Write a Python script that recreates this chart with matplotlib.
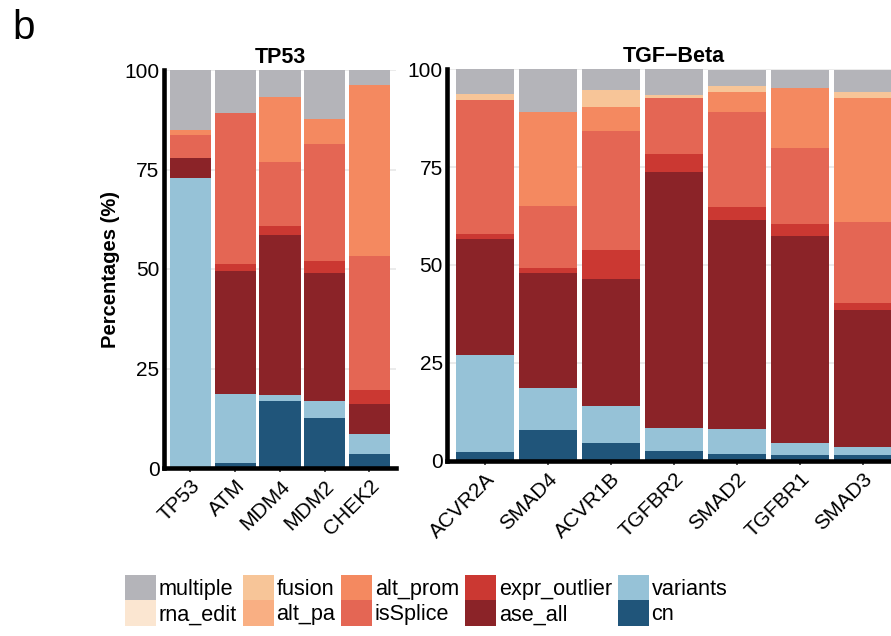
import matplotlib
matplotlib.use("Agg")
import matplotlib.pyplot as plt
import numpy as np
from matplotlib.patches import Patch

plt.rcParams['font.family'] = ['Liberation Sans', 'DejaVu Sans']

# ---------------- data ----------------
categories = ["multiple", "rna_edit", "fusion", "alt_pa", "alt_prom",
              "isSplice", "expr_outlier", "ase_all", "variants", "cn"]
colors = {
    "multiple": "#B4B4B9", "rna_edit": "#FBE6D1", "fusion": "#F7C598",
    "alt_pa": "#F9AF83", "alt_prom": "#F48960", "isSplice": "#E46654",
    "expr_outlier": "#CB3832", "ase_all": "#8B2328", "variants": "#96C2D7",
    "cn": "#20557A",
}

tp53_genes = ["TP53", "ATM", "MDM4", "MDM2", "CHEK2"]
tp53_cn           = [0.0, 1.3, 16.8, 12.5, 3.6]
tp53_variants     = [72.8, 17.4, 1.6, 4.4, 4.9]
tp53_ase_all      = [5.0, 30.8, 40.2, 32.0, 7.7]
tp53_expr_outlier = [0.0, 1.8, 2.2, 3.0, 3.4]
tp53_isSplice     = [5.8, 37.9, 16.0, 29.4, 33.6]
tp53_alt_pa       = [0.0, 0.0, 0.0, 0.0, 0.0]
tp53_alt_prom     = [1.4, 0.0, 16.3, 6.4, 43.1]
tp53_fusion       = [0.0, 0.0, 0.0, 0.0, 0.0]
tp53_rna_edit     = [0.0, 0.0, 0.0, 0.0, 0.0]
tp53_multiple     = [14.9, 10.7, 6.9, 12.2, 3.7]

tgf_genes = ["ACVR2A", "SMAD4", "ACVR1B", "TGFBR2", "SMAD2", "TGFBR1", "SMAD3"]
tgf_cn           = [2.2, 7.9, 4.5, 2.4, 1.7, 1.4, 1.4]
tgf_variants     = [24.8, 10.6, 9.4, 5.9, 6.4, 3.2, 2.2]
tgf_ase_all      = [29.6, 29.5, 32.5, 65.5, 53.3, 52.7, 35.0]
tgf_expr_outlier = [1.4, 1.3, 7.4, 4.6, 3.3, 3.2, 1.6]
tgf_isSplice     = [34.2, 15.7, 30.5, 14.3, 24.4, 19.5, 20.7]
tgf_alt_pa       = [0.0, 0.0, 0.0, 0.0, 0.0, 0.0, 0.0]
tgf_alt_prom     = [0.0, 24.2, 6.1, 0.0, 5.0, 15.1, 31.7]
tgf_fusion       = [1.5, 0.0, 4.3, 0.7, 1.6, 0.0, 1.6]
tgf_rna_edit     = [0.0, 0.0, 0.0, 0.0, 0.0, 0.0, 0.0]
tgf_multiple     = [6.3, 10.9, 5.4, 6.6, 4.2, 4.8, 5.7]

yticks = [0, 25, 50, 75, 100]

tp53_data = {"cn": tp53_cn, "variants": tp53_variants, "ase_all": tp53_ase_all,
             "expr_outlier": tp53_expr_outlier, "isSplice": tp53_isSplice,
             "alt_pa": tp53_alt_pa, "alt_prom": tp53_alt_prom,
             "fusion": tp53_fusion, "rna_edit": tp53_rna_edit,
             "multiple": tp53_multiple}
tgf_data = {"cn": tgf_cn, "variants": tgf_variants, "ase_all": tgf_ase_all,
            "expr_outlier": tgf_expr_outlier, "isSplice": tgf_isSplice,
            "alt_pa": tgf_alt_pa, "alt_prom": tgf_alt_prom,
            "fusion": tgf_fusion, "rna_edit": tgf_rna_edit,
            "multiple": tgf_multiple}

W, H = 891, 636
fig = plt.figure(figsize=(W / 100, H / 100), dpi=100)


def px_axes(x0, y0, x1, y1):
    return fig.add_axes([x0 / W, 1 - y1 / H, (x1 - x0) / W, (y1 - y0) / H])


def draw(ax, genes, data, title, show_ylabel):
    x = np.arange(1, len(genes) + 1)
    bottom = np.zeros(len(genes))
    for cat in categories[::-1]:
        vals = np.array(data[cat], dtype=float)
        ax.bar(x, vals, width=0.92, bottom=bottom, color=colors[cat],
               edgecolor='none', zorder=2)
        bottom += vals
    ax.set_xlim(0.4, len(genes) + 0.6)
    ax.set_ylim(0, 100)
    ax.set_yticks(yticks)
    ax.set_yticklabels([str(v) for v in yticks])
    ax.set_xticks(x)
    ax.set_xticklabels(genes, rotation=45, ha='right', va='top',
                       rotation_mode='anchor')
    ax.tick_params(axis='x', length=3, width=1.2, color='#333333',
                   labelsize=15, pad=3, labelcolor='black')
    ax.tick_params(axis='y', length=0, labelsize=15, pad=3,
                   labelcolor='black')
    ax.yaxis.grid(True, color='#EBEBEB', linewidth=1.4, zorder=0)
    ax.set_axisbelow(True)
    for s in ['top', 'right']:
        ax.spines[s].set_visible(False)
    for s in ['left', 'bottom']:
        ax.spines[s].set_linewidth(3.3)
        ax.spines[s].set_color('black')
        ax.spines[s].set_capstyle('projecting')
        ax.spines[s].set_zorder(3)
    ax.set_title(title, fontsize=15.5, fontweight='bold', pad=5)
    if show_ylabel:
        ax.set_ylabel("Percentages (%)", fontsize=14.5, fontweight='bold',
                      labelpad=3)


ax1 = px_axes(163.6, 70, 396.3, 468)
draw(ax1, tp53_genes, tp53_data, "TP53", True)

ax2 = px_axes(447, 69.3, 900.6, 460.7)
draw(ax2, tgf_genes, tgf_data, "TGF\u2212Beta", False)

fig.text(12 / W, 1 - 9 / H, "b", fontsize=29, ha='left', va='top')

handles = [Patch(facecolor=colors[c], edgecolor='none', label=c)
           for c in categories]
fig.legend(handles=handles, loc='upper left',
           bbox_to_anchor=(125 / W, 1 - 575 / H), ncol=5, frameon=False,
           fontsize=15.6, handlelength=1.43, handleheight=1.43,
           handletextpad=0.12, columnspacing=0.28, labelspacing=0.0,
           borderpad=0, borderaxespad=0)

fig.savefig("out.png", dpi=100)
